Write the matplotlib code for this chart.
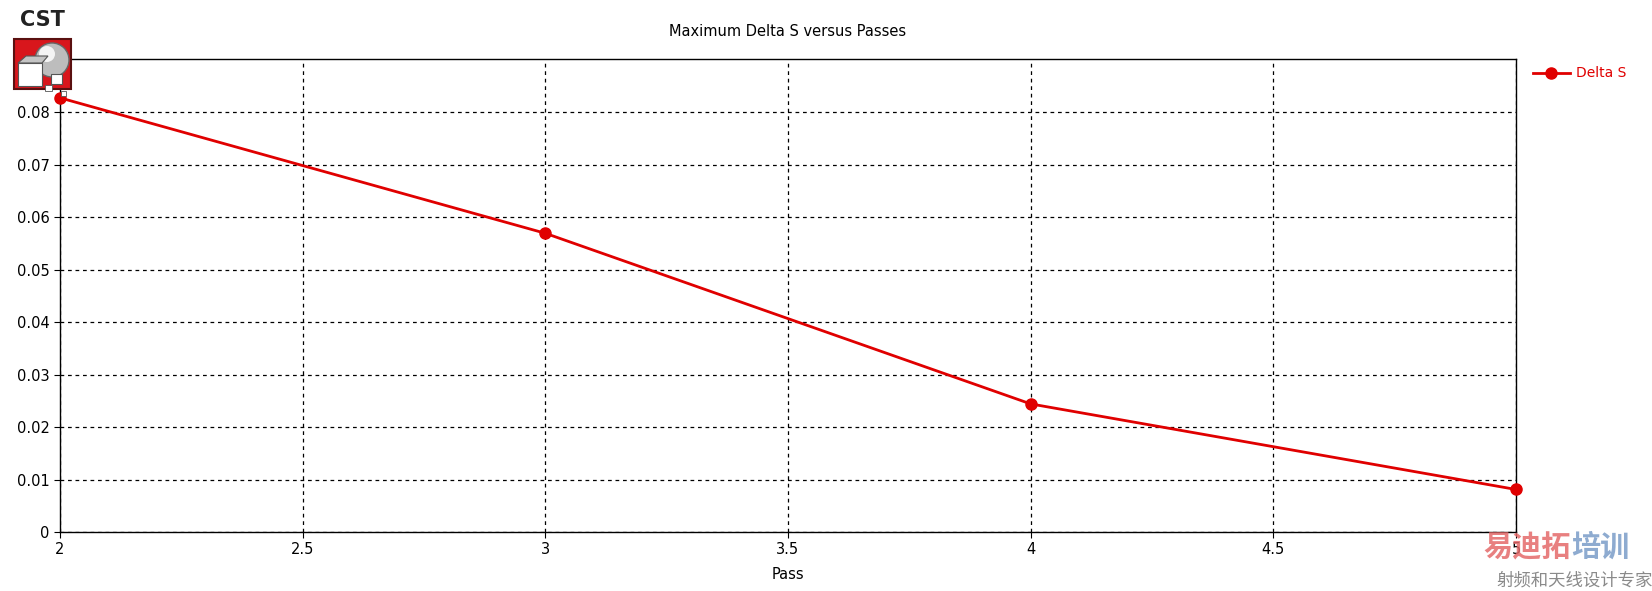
import matplotlib.pyplot as plt
from matplotlib.patches import Rectangle, Ellipse, Polygon
from matplotlib.lines import Line2D

passes = [2, 3, 4, 5]
delta_s = [0.0827, 0.0569, 0.0244, 0.0081]
x_ticks = [2, 2.5, 3, 3.5, 4, 4.5, 5]
y_ticks = [0, 0.01, 0.02, 0.03, 0.04, 0.05, 0.06, 0.07, 0.08]
y_tick_labels = ["0", "0.01", "0.02", "0.03", "0.04", "0.05", "0.06", "0.07", "0.08"]

red = "#e00000"
W, H = 1652, 591

fig = plt.figure(figsize=(16.52, 5.91), dpi=100)
ax = fig.add_axes([60 / W, 1 - 532 / H, (1516 - 60) / W, (532 - 59) / H])

ax.plot(passes, delta_s, color=red, lw=2, marker="o", ms=8, zorder=3, clip_on=False)
ax.set_xlim(2, 5)
ax.set_ylim(0, 0.0901)
ax.set_xticks(x_ticks)
ax.set_xticklabels([f"{t:g}" for t in x_ticks])
ax.set_yticks(y_ticks)
ax.set_yticklabels(y_tick_labels)
ax.grid(True, color="black", ls=(0, (3, 3)), lw=0.9)
ax.tick_params(direction="out", length=4, labelsize=10.5, colors="black")
for s in ax.spines.values():
    s.set_linewidth(1)
ax.set_xlabel("Pass", fontsize=10.5, labelpad=7)
fig.text(788 / W, 1 - 31 / H, "Maximum Delta S versus Passes",
         ha="center", va="center", fontsize=10.5)

# legend
fig.add_artist(Line2D([1533 / W, 1570 / W], [1 - 73 / H] * 2, color=red, lw=2))
fig.add_artist(Line2D([1551 / W], [1 - 73 / H], color=red, marker="o", ms=8))
fig.text(1576 / W, 1 - 73 / H, "Delta S", color=red, fontsize=10, va="center")

# CST logo
fig.text(42 / W, 1 - 20 / H, "CST", fontsize=15, fontweight="bold", ha="center",
         va="center", color="#222222")
fig.add_artist(Rectangle((14 / W, 1 - 89 / H), 57 / W, 50 / H, transform=fig.transFigure,
                         facecolor="#d8161c", edgecolor="#5a1010", lw=1.5))
fig.add_artist(Ellipse((52 / W, 1 - 60 / H), 34 / W, 34 / H, transform=fig.transFigure,
                       facecolor="#bdbdbd", edgecolor="#666666", lw=1))
fig.add_artist(Ellipse((47 / W, 1 - 54 / H), 16 / W, 16 / H, transform=fig.transFigure,
                       facecolor="#f4f4f4", edgecolor="none"))
fig.add_artist(Polygon([(18 / W, 1 - 63 / H), (26 / W, 1 - 56 / H), (48 / W, 1 - 56 / H),
                        (42 / W, 1 - 63 / H)], closed=True, transform=fig.transFigure,
                       facecolor="#c4c4c4", edgecolor="#555555", lw=0.8))
fig.add_artist(Rectangle((18 / W, 1 - 86 / H), 24 / W, 23 / H, transform=fig.transFigure,
                         facecolor="white", edgecolor="#555555", lw=0.8))
fig.add_artist(Rectangle((51 / W, 1 - 84 / H), 11 / W, 10 / H, transform=fig.transFigure,
                         facecolor="white", edgecolor="#555555", lw=0.8))
fig.add_artist(Rectangle((45 / W, 1 - 91 / H), 7 / W, 6 / H, transform=fig.transFigure,
                         facecolor="white", edgecolor="#555555", lw=0.6))
fig.add_artist(Rectangle((61 / W, 1 - 96 / H), 5 / W, 5 / H, transform=fig.transFigure,
                         facecolor="white", edgecolor="#555555", lw=0.6))

# watermark
cjk = ["Noto Sans CJK SC", "DejaVu Sans"]
fig.text(1571 / W, 1 - 547 / H, "易迪拓", color="#e46a6a", alpha=0.85, fontsize=21,
         fontweight="bold", ha="right", va="center", family=cjk)
fig.text(1571 / W, 1 - 547 / H, "培训", color="#7a9cc8", alpha=0.85, fontsize=21,
         fontweight="bold", ha="left", va="center", family=cjk)
fig.text(1575 / W, 1 - 581 / H, "射频和天线设计专家", color="#8a8a8a", fontsize=12.5,
         ha="center", va="center", family=cjk)

fig.savefig("out.png", dpi=100, facecolor="white")
